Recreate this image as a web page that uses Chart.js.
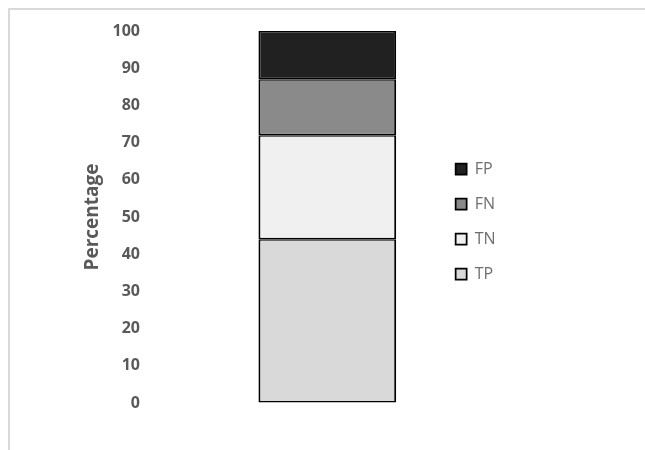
<!DOCTYPE html>
<html>
<head>
<meta charset="utf-8">
<script src="https://cdn.jsdelivr.net/npm/chart.js@4"></script>
<style>
  html, body { margin: 0; padding: 0; background: #fff; }
  #wrap { position: relative; width: 645px; height: 450px; }
  #frame { position: absolute; left: 8px; top: 8px; right: 0; bottom: 0;
           border-top: 2px solid #d9d9d9; border-left: 2px solid #d9d9d9; }
  canvas { position: absolute; left: 0; top: 0; }
</style>
</head>
<body>
<div id="wrap">
  <div id="frame"></div>
  <canvas id="chart" width="645" height="450"></canvas>
</div>
<script>
// stacked shares (percent), bottom to top
const categories = [''];
const tp = [44];
const tn = [28];
const fn = [15];
const fp = [13];
const yTicks = [0, 10, 20, 30, 40, 50, 60, 70, 80, 90, 100];

const border = { top: 1.5, bottom: 1.5, left: 2, right: 2 };

const ctx = document.getElementById('chart').getContext('2d');
new Chart(ctx, {
  type: 'bar',
  data: {
    labels: categories,
    datasets: [
      { label: 'TP', data: tp, backgroundColor: '#d9d9d9' },
      { label: 'TN', data: tn, backgroundColor: '#f0f0f0' },
      { label: 'FN', data: fn, backgroundColor: '#8a8a8a' },
      { label: 'FP', data: fp, backgroundColor: '#212121' }
    ].map(d => Object.assign(d, { borderColor: '#000', borderWidth: border, borderSkipped: false }))
  },
  options: {
    responsive: false,
    animation: false,
    layout: { padding: { left: 76, top: 31, bottom: 47, right: 139.5 } },
    datasets: { bar: { categoryPercentage: 1, barPercentage: 0.63 } },
    scales: {
      x: { stacked: true, display: false },
      y: {
        stacked: true,
        min: 0, max: 100,
        afterBuildTicks: s => { s.ticks = yTicks.map(v => ({ value: v })); },
        afterFit: s => { s.width = 142; },
        // invisible long tick marks push the labels left of the bar area
        grid: { display: true, drawOnChartArea: false, drawTicks: true, tickLength: 74, tickColor: 'rgba(0,0,0,0)' },
        border: { display: false },
        ticks: { padding: 4, color: '#595959', font: { family: 'Open Sans', size: 16, weight: 'bold' } },
        title: {
          display: true, text: 'Percentage', color: '#595959',
          padding: { top: 5, bottom: 6 },
          font: { family: 'Open Sans', size: 19, weight: 'bold' }
        }
      }
    },
    plugins: {
      tooltip: { enabled: false },
      legend: {
        position: 'right',
        reverse: true,
        // empty title only nudges the items down a little
        title: { display: true, text: '', padding: 0, font: { size: 7.5 } },
        labels: {
          boxWidth: 11, boxHeight: 11, padding: 19, color: '#6e6e6e',
          font: { family: 'Open Sans', size: 16 }
        }
      }
    }
  }
});
</script>
</body>
</html>
